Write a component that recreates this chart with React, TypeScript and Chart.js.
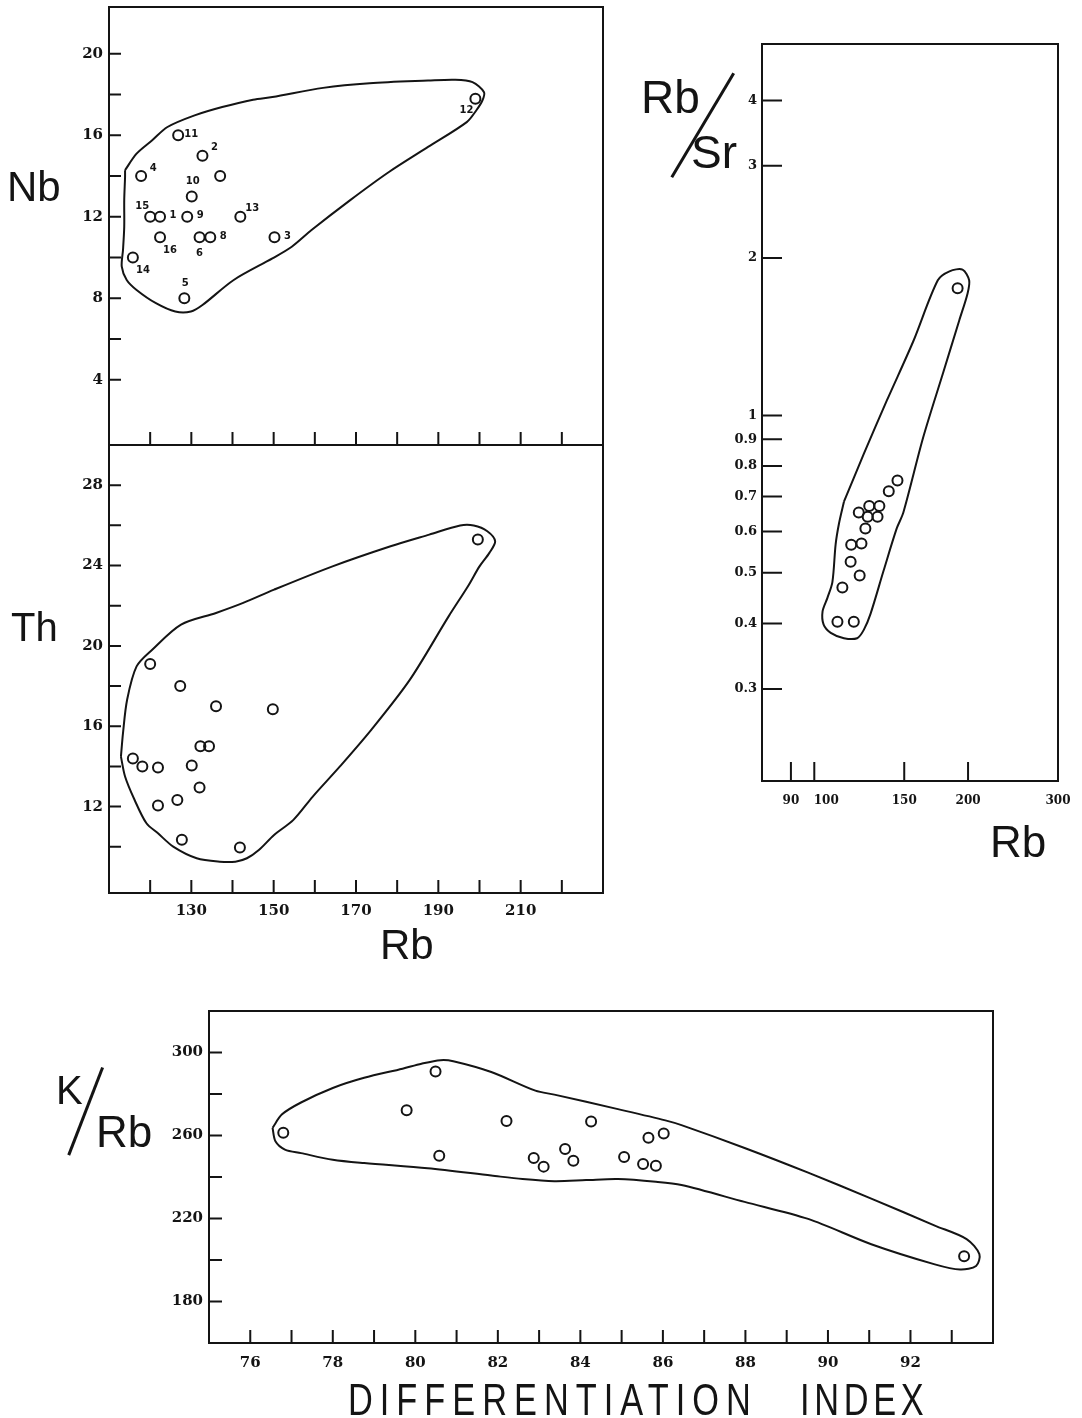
import React, { useEffect, useRef } from "react";
import { Chart, registerables } from "chart.js";

Chart.register(...registerables);

const W = 1082;
const H = 1418;

// ---------- Panel 1: Nb vs Rb ----------
const nbRb = [122.4, 132.7, 150.2, 117.8, 128.3, 132, 137, 134.6, 129, 130.1, 126.8, 199, 141.9, 115.8, 120, 122.4];
const nbVal = [12, 15, 11, 14, 8, 11, 14, 11, 12, 13, 16, 17.8, 12, 10, 12, 11];
const nbText = ["1", "2", "3", "4", "5", "6", "", "8", "9", "10", "11", "12", "13", "14", "15", "16"];
const nbPlace = ["e", "ne", "e", "ne", "n", "s", "", "e", "e", "n", "e", "sw", "ne", "se", "nw", "se"];
const nbEnvRb = [113.9, 116.7, 120.5, 124.2, 130.8, 137.5, 145, 149.7, 162, 173.3, 187.5, 194.1, 198.3, 201.1, 200.7, 199.2, 196.9, 187.5, 178, 168.6, 159.2, 154.4, 149.7, 140.3, 132.7, 129.9, 126.1, 121.4, 116.7, 114.3, 113.1, 113.4, 113.7, 113.7, 113.9];
const nbEnvNb = [14.29, 15.1, 15.76, 16.41, 16.98, 17.39, 17.75, 17.88, 18.33, 18.56, 18.69, 18.73, 18.61, 18.12, 17.71, 17.22, 16.65, 15.43, 14.2, 12.82, 11.35, 10.53, 9.96, 8.9, 7.67, 7.35, 7.35, 7.76, 8.41, 8.9, 9.55, 10.37, 11.51, 12.82, 13.96];
const nbTicks = [4, 6, 8, 10, 12, 14, 16, 18, 20];
const nbLabels = [4, 8, 12, 16, 20];

// ---------- Panel 2: Th vs Rb ----------
const thRb = [199.6, 120, 127.3, 136, 149.8, 132.2, 134.3, 115.8, 118.1, 121.9, 130.1, 132, 126.6, 121.9, 127.7, 141.8];
const thVal = [25.3, 19.1, 18.0, 17.0, 16.85, 15.0, 15.0, 14.4, 14.0, 13.95, 14.05, 12.95, 12.33, 12.05, 10.35, 9.96];
const thEnvRb = [112.9, 113.4, 114.4, 116.7, 120.5, 127.5, 136, 142.6, 150.1, 164.3, 178.4, 187.8, 195.3, 198.6, 201.9, 203.8, 202.4, 200, 197.2, 192.5, 183.1, 173.7, 166.1, 159.5, 154.8, 150.1, 146.4, 143.5, 140.7, 136.9, 131.3, 125.6, 121.9, 119.1, 116.2, 113.9];
const thEnvTh = [14.49, 15.66, 17.32, 18.98, 19.81, 21.06, 21.64, 22.14, 22.8, 23.96, 24.96, 25.54, 25.99, 25.99, 25.71, 25.21, 24.63, 23.96, 22.97, 21.47, 18.32, 15.82, 14, 12.5, 11.34, 10.59, 9.84, 9.43, 9.26, 9.26, 9.43, 10.01, 10.67, 11.17, 12.34, 13.5];
const thTicks = [10, 12, 14, 16, 18, 20, 22, 24, 26, 28];
const thLabels = [12, 16, 20, 24, 28];
const rbTicks = [120, 130, 140, 150, 160, 170, 180, 190, 200, 210, 220];
const rbLabels = [130, 150, 170, 190, 210];

// ---------- Panel 3: Rb/Sr vs Rb (log-log) ----------
const srRb = [190.8, 111, 119.5, 113.5, 117.8, 122.7, 118.1, 123.7, 125.9, 122.2, 127.2, 128.1, 133, 134.1, 139.9, 145.5];
const srRatio = [1.75, 0.403, 0.403, 0.469, 0.525, 0.494, 0.566, 0.569, 0.608, 0.652, 0.64, 0.671, 0.64, 0.671, 0.716, 0.751];
const srEnvRb = [114.3, 125, 138.7, 156.1, 174.5, 183.9, 195.1, 201, 199.5, 192.2, 178.5, 163.3, 149.4, 145, 136.6, 128.8, 125, 121.3, 114.3, 107.7, 104.3, 103.8, 106.1, 108.5, 110.1, 111.8];
const srEnvRatio = [0.684, 0.844, 1.068, 1.383, 1.813, 1.886, 1.9, 1.813, 1.709, 1.519, 1.201, 0.906, 0.652, 0.608, 0.504, 0.417, 0.389, 0.375, 0.375, 0.384, 0.398, 0.422, 0.448, 0.48, 0.567, 0.622];
const srYTicks = [0.3, 0.4, 0.5, 0.6, 0.7, 0.8, 0.9, 1, 2, 3, 4];
const srXTicks = [90, 100, 150, 200, 300];
const srXLabels = [90, 100, 150, 200, 300];

// ---------- Panel 4: K/Rb vs Differentiation Index ----------
const diVal = [76.8, 79.79, 80.49, 80.58, 82.21, 82.87, 83.11, 83.63, 83.83, 84.26, 85.06, 85.52, 85.65, 85.83, 86.02, 93.3];
const krbVal = [261.3, 272.2, 290.9, 250.2, 267, 249.1, 245, 253.5, 247.8, 266.7, 249.6, 246.3, 258.9, 245.4, 261, 201.8];
const diEnv = [76.54, 76.77, 77.23, 78.0, 78.76, 79.69, 80.15, 80.61, 80.92, 81.84, 82.91, 83.37, 84.91, 86.06, 86.45, 87.98, 89.52, 91.05, 92.59, 93.36, 93.67, 93.59, 93.2, 92.59, 91.05, 89.52, 87.98, 86.45, 85.83, 84.91, 84.14, 83.37, 82.6, 81.84, 80.3, 78.76, 78.0, 77.23, 76.84, 76.61];
const krbEnv = [263.7, 270.2, 275.9, 282.9, 287.8, 292.2, 294.6, 296.3, 295.8, 290.6, 281.6, 279.7, 272.7, 267.3, 265.0, 254.0, 242.1, 229.6, 216.6, 210.1, 202.8, 197.1, 195.4, 197.9, 207.6, 219.8, 228.0, 236.1, 237.7, 239.0, 238.5, 238.0, 239.0, 240.7, 244.2, 246.7, 248.3, 251.5, 253.2, 257.2];
const krbTicks = [180, 200, 220, 240, 260, 280, 300];
const krbLabels = [180, 220, 260, 300];
const diTicks = [76, 77, 78, 79, 80, 81, 82, 83, 84, 85, 86, 87, 88, 89, 90, 91, 92, 93];
const diLabels = [76, 78, 80, 82, 84, 86, 88, 90, 92];

// ---------- helpers ----------
const INK = "#141414";
const tickFont = { family: "'DejaVu Serif', serif", size: 15, weight: "bold" as const };
const smallTickFont = { family: "'DejaVu Serif', serif", size: 13, weight: "bold" as const };
const EM = "\u2003";

const PLACE_OFFSETS: Record<string, [number, number]> = {
  e: [13, -1],
  ne: [12, -8],
  n: [1, -15],
  nw: [-8, -10],
  se: [10, 13],
  s: [0, 16],
  sw: [-9, 12],
};

const toPts = (xs: number[], ys: number[]) => xs.map((x, i) => ({ x, y: ys[i] }));
const closed = (xs: number[], ys: number[]) => {
  const p = toPts(xs, ys);
  return [...p, p[0]];
};

const framePlugin = {
  id: "frame",
  afterDraw(chart: any) {
    const opts = chart.options.plugins.frame || {};
    const { ctx, chartArea: a } = chart;
    ctx.save();
    ctx.strokeStyle = INK;
    ctx.lineWidth = 2;
    ctx.strokeRect(a.left, a.top, a.right - a.left, a.bottom - a.top);
    ctx.beginPath();
    const xs = chart.scales.x;
    const ys = chart.scales.y;
    xs.ticks.forEach((t: any) => {
      const px = xs.getPixelForValue(t.value);
      if (px <= a.left + 1 || px >= a.right - 1) return;
      ctx.moveTo(px, a.bottom);
      ctx.lineTo(px, a.bottom - opts.xLen);
    });
    ys.ticks.forEach((t: any) => {
      const py = ys.getPixelForValue(t.value);
      if (py <= a.top + 1 || py >= a.bottom - 1) return;
      ctx.moveTo(a.left, py);
      ctx.lineTo(a.left + opts.yLen, py);
    });
    ctx.stroke();
    ctx.restore();
  },
};

const pointLabelPlugin = {
  id: "pointLabels",
  afterDatasetsDraw(chart: any) {
    const cfg = chart.options.plugins.pointLabels;
    if (!cfg || !cfg.texts) return;
    const meta = chart.getDatasetMeta(cfg.datasetIndex);
    const { ctx } = chart;
    ctx.save();
    ctx.fillStyle = INK;
    ctx.font = "bold 10px 'DejaVu Sans', sans-serif";
    ctx.textAlign = "center";
    ctx.textBaseline = "middle";
    meta.data.forEach((el: any, i: number) => {
      const t = cfg.texts[i];
      const p = cfg.places[i];
      if (!t || !PLACE_OFFSETS[p]) return;
      const [dx, dy] = PLACE_OFFSETS[p];
      ctx.fillText(t, el.x + dx, el.y + dy);
    });
    ctx.restore();
  },
};

type AxisSpec = {
  type: "linear" | "logarithmic";
  min: number;
  max: number;
  ticks: number[];
  labels: number[];
  showLabels: boolean;
  font: any;
  padding: number;
  format?: (v: number) => string;
};

function scaleOf(axis: "x" | "y", spec: AxisSpec, size: number) {
  return {
    type: spec.type,
    position: axis === "x" ? "bottom" : "left",
    min: spec.min,
    max: spec.max,
    bounds: "data",
    grid: { display: false, drawTicks: false },
    border: { display: false },
    ticks: {
      display: spec.showLabels,
      autoSkip: false,
      maxRotation: 0,
      minRotation: 0,
      padding: spec.padding,
      color: INK,
      font: spec.font,
      callback: (value: any) => {
        const v = Number(value);
        if (!spec.labels.some((l) => Math.abs(l - v) < 1e-9)) return "";
        return spec.format ? spec.format(v) : String(v);
      },
    },
    afterBuildTicks: (scale: any) => {
      scale.ticks = spec.ticks.map((v) => ({ value: v }));
    },
    afterFit: (scale: any) => {
      if (axis === "x") scale.height = size;
      else scale.width = size;
      scale.paddingLeft = 0;
      scale.paddingRight = 0;
      scale.paddingTop = 0;
      scale.paddingBottom = 0;
    },
  };
}

type Box = { left: number; top: number; right: number; bottom: number };
const YW = 60;
const XH = 30;

function makeConfig(opts: {
  box: Box;
  points: { x: number; y: number }[];
  envelope: { x: number; y: number }[];
  x: AxisSpec;
  y: AxisSpec;
  xLen: number;
  yLen: number;
  labels?: { texts: string[]; places: string[] };
}): any {
  const { box } = opts;
  return {
    type: "scatter",
    data: {
      datasets: [
        {
          label: "envelope",
          data: opts.envelope,
          showLine: true,
          borderColor: INK,
          borderWidth: 2,
          pointRadius: 0,
          pointHoverRadius: 0,
          tension: 0.3,
          fill: false,
        },
        {
          label: "samples",
          data: opts.points,
          showLine: false,
          pointRadius: 5,
          pointHoverRadius: 5,
          pointBorderWidth: 2,
          pointBorderColor: INK,
          pointBackgroundColor: "rgba(255,255,255,0)",
        },
      ],
    },
    options: {
      animation: false,
      responsive: false,
      devicePixelRatio: 1,
      events: [],
      layout: {
        padding: {
          left: box.left - YW,
          top: box.top,
          right: W - box.right,
          bottom: H - box.bottom - XH,
        },
      },
      plugins: {
        legend: { display: false },
        tooltip: { enabled: false },
        title: { display: false },
        frame: { xLen: opts.xLen, yLen: opts.yLen },
        pointLabels: opts.labels ? { datasetIndex: 1, texts: opts.labels.texts, places: opts.labels.places } : {},
      },
      scales: {
        x: scaleOf("x", opts.x, XH),
        y: scaleOf("y", opts.y, YW),
      },
    },
    plugins: [framePlugin, pointLabelPlugin],
  };
}

const titleStyle = (left: number, top: number, size: number): React.CSSProperties => ({
  position: "absolute",
  left,
  top,
  fontFamily: "'Liberation Sans', Arial, sans-serif",
  fontSize: size,
  lineHeight: 1,
  color: INK,
  whiteSpace: "nowrap",
});

const slash = (x1: number, y1: number, x2: number, y2: number): React.CSSProperties => {
  const dx = x2 - x1;
  const dy = y2 - y1;
  const len = Math.sqrt(dx * dx + dy * dy);
  const ang = (Math.atan2(dy, dx) * 180) / Math.PI;
  return {
    position: "absolute",
    left: x1,
    top: y1,
    width: len,
    height: 3,
    background: INK,
    transformOrigin: "0 0",
    transform: `rotate(${ang}deg)`,
  };
};

export default function App() {
  const r1 = useRef<HTMLCanvasElement>(null);
  const r2 = useRef<HTMLCanvasElement>(null);
  const r3 = useRef<HTMLCanvasElement>(null);
  const r4 = useRef<HTMLCanvasElement>(null);

  useEffect(() => {
    const rbAxis = (show: boolean): AxisSpec => ({
      type: "linear",
      min: 110,
      max: 230,
      ticks: rbTicks,
      labels: rbLabels,
      showLabels: show,
      font: tickFont,
      padding: 9,
    });
    const c1 = new Chart(
      r1.current as HTMLCanvasElement,
      makeConfig({
        box: { left: 109, top: 6, right: 603, bottom: 445 },
        points: toPts(nbRb, nbVal),
        envelope: closed(nbEnvRb, nbEnvNb),
        x: rbAxis(false),
        y: { type: "linear", min: 0.8, max: 22.3, ticks: nbTicks, labels: nbLabels, showLabels: true, font: tickFont, padding: 6 },
        xLen: 13,
        yLen: 12,
        labels: { texts: nbText, places: nbPlace },
      })
    );
    const c2 = new Chart(
      r2.current as HTMLCanvasElement,
      makeConfig({
        box: { left: 109, top: 445, right: 603, bottom: 893 },
        points: toPts(thRb, thVal),
        envelope: closed(thEnvRb, thEnvTh),
        x: rbAxis(true),
        y: { type: "linear", min: 7.7, max: 30, ticks: thTicks, labels: thLabels, showLabels: true, font: tickFont, padding: 6 },
        xLen: 13,
        yLen: 12,
      })
    );
    const c3 = new Chart(
      r3.current as HTMLCanvasElement,
      makeConfig({
        box: { left: 762, top: 44, right: 1058, bottom: 781 },
        points: toPts(srRb, srRatio),
        envelope: closed(srEnvRb, srEnvRatio),
        x: {
          type: "logarithmic",
          min: 79,
          max: 300,
          ticks: srXTicks,
          labels: srXLabels,
          showLabels: true,
          font: { ...smallTickFont, size: 12 },
          padding: 13,
          format: (v) => (v === 100 ? EM + EM + "100" : String(v)),
        },
        y: { type: "logarithmic", min: 0.2, max: 5.13, ticks: srYTicks, labels: srYTicks, showLabels: true, font: smallTickFont, padding: 5 },
        xLen: 19,
        yLen: 20,
      })
    );
    const c4 = new Chart(
      r4.current as HTMLCanvasElement,
      makeConfig({
        box: { left: 209, top: 1011, right: 993, bottom: 1343 },
        points: toPts(diVal, krbVal),
        envelope: closed(diEnv, krbEnv),
        x: { type: "linear", min: 75, max: 94, ticks: diTicks, labels: diLabels, showLabels: true, font: tickFont, padding: 11 },
        y: { type: "linear", min: 160, max: 320, ticks: krbTicks, labels: krbLabels, showLabels: true, font: tickFont, padding: 6 },
        xLen: 13,
        yLen: 13,
      })
    );
    return () => {
      c1.destroy();
      c2.destroy();
      c3.destroy();
      c4.destroy();
    };
  }, []);

  const canvasStyle: React.CSSProperties = { position: "absolute", left: 0, top: 0 };

  return (
    <div style={{ position: "absolute", left: 0, top: 0, width: W, height: H, background: "#fff", overflow: "hidden" }}>
      <canvas ref={r1} width={W} height={H} style={canvasStyle} />
      <canvas ref={r2} width={W} height={H} style={canvasStyle} />
      <canvas ref={r3} width={W} height={H} style={canvasStyle} />
      <canvas ref={r4} width={W} height={H} style={canvasStyle} />

      <div style={titleStyle(7, 166, 42)}>Nb</div>
      <div style={titleStyle(11, 607, 40)}>Th</div>
      <div style={titleStyle(380, 924, 42)}>Rb</div>

      <div style={titleStyle(641, 74, 46)}>Rb</div>
      <div style={slash(735, 74, 673, 178)} />
      <div style={titleStyle(691, 129, 46)}>Sr</div>
      <div style={titleStyle(990, 820, 44)}>Rb</div>

      <div style={titleStyle(56, 1070, 40)}>K</div>
      <div style={slash(104, 1068, 70, 1156)} />
      <div style={titleStyle(96, 1110, 44)}>Rb</div>

      <div style={{ ...titleStyle(348, 1378, 44), letterSpacing: 9, transform: "scaleX(0.78)", transformOrigin: "0 0" }}>
        DIFFERENTIATION
      </div>
      <div style={{ ...titleStyle(800, 1378, 44), letterSpacing: 6, transform: "scaleX(0.78)", transformOrigin: "0 0" }}>
        INDEX
      </div>
    </div>
  );
}
